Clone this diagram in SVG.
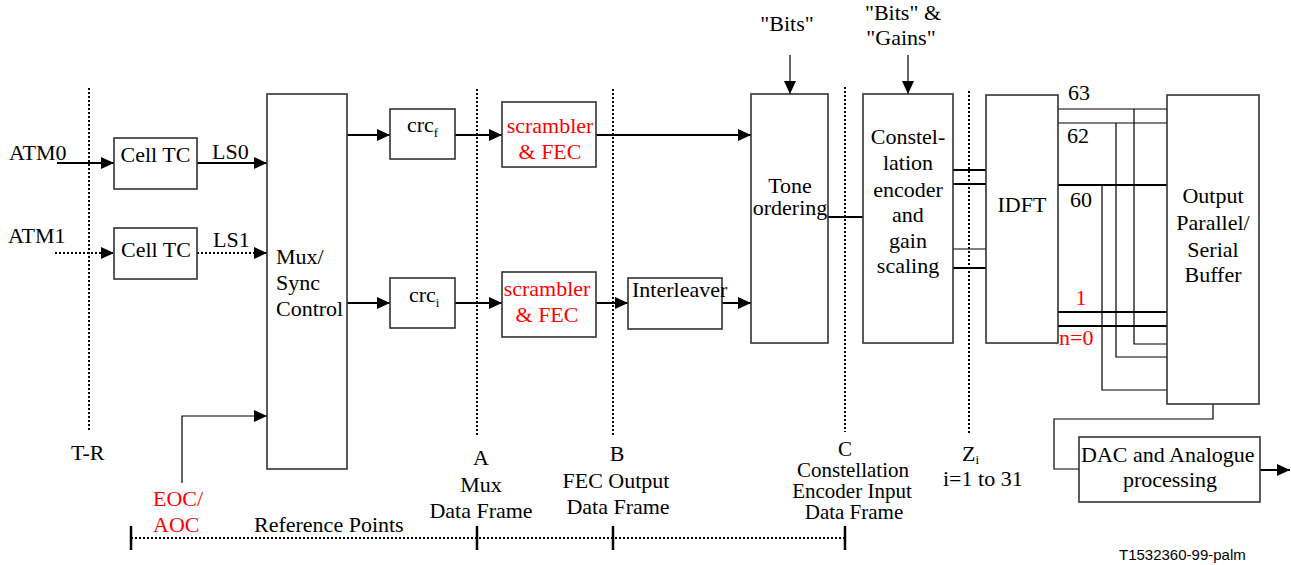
<svg xmlns="http://www.w3.org/2000/svg" width="1291" height="565" viewBox="0 0 1291 565">
  <style>
    .box { fill: #fff; stroke: #333; stroke-width: 1.6; }
    .t { font-family: "Liberation Serif", "Times New Roman", serif; font-size: 22px; fill: #000; }
    .s21 { font-size: 21px; }
    .red { fill: #ff0000; }
    .mid { text-anchor: middle; }
    .sub { font-size: 13px; }
    .wire { fill: none; stroke: #000; stroke-width: 2; }
    .thin { fill: none; stroke: #000; stroke-width: 1.2; }
    .dot { fill: none; stroke: #000; stroke-width: 2; stroke-dasharray: 2 2; }
    .tick { stroke: #000; stroke-width: 2.5; }
    .code { font-family: "Liberation Sans", Arial, sans-serif; font-size: 15px; fill: #000; }
  </style>
  <defs>
    <marker id="arrow" markerUnits="userSpaceOnUse" markerWidth="14" markerHeight="12" refX="13" refY="6" orient="auto">
      <path d="M0,0 L13,6 L0,12 z" fill="#000"/>
    </marker>
  </defs>

  <rect width="1291" height="565" fill="#fff"/>

  <!-- reference point dotted lines -->
  <g id="reference-lines">
    <line class="dot" x1="89" y1="88" x2="89" y2="432"/>
    <line class="dot" x1="477" y1="89" x2="477" y2="435"/>
    <line class="dot" x1="613" y1="89" x2="613" y2="435"/>
    <line class="dot" x1="845" y1="87" x2="845" y2="432"/>
    <line class="dot" x1="969" y1="91" x2="969" y2="435"/>
    <line class="dot" x1="131" y1="538" x2="845" y2="538"/>
    <line class="tick" x1="131" y1="526" x2="131" y2="550"/>
    <line class="tick" x1="477" y1="526" x2="477" y2="550"/>
    <line class="tick" x1="613" y1="526" x2="613" y2="550"/>
    <line class="tick" x1="845" y1="526" x2="845" y2="550"/>
  </g>

  <!-- connectors -->
  <g id="connectors">
    <line class="wire" x1="57" y1="163" x2="114" y2="163" marker-end="url(#arrow)"/>
    <line class="wire" x1="197" y1="163" x2="267" y2="163" marker-end="url(#arrow)"/>
    <line class="dot" x1="55" y1="253" x2="114" y2="253" marker-end="url(#arrow)"/>
    <line class="dot" x1="197" y1="253" x2="267" y2="253" marker-end="url(#arrow)"/>
    <path class="thin" d="M182,483 V416 H267" stroke="#555" marker-end="url(#arrow)"/>
    <line class="wire" x1="347" y1="135" x2="390" y2="135" marker-end="url(#arrow)"/>
    <line class="wire" x1="347" y1="303" x2="390" y2="303" marker-end="url(#arrow)"/>
    <line class="wire" x1="455" y1="135" x2="502" y2="135" marker-end="url(#arrow)"/>
    <line class="wire" x1="455" y1="303" x2="502" y2="303" marker-end="url(#arrow)"/>
    <line class="wire" x1="596" y1="135" x2="751" y2="135" marker-end="url(#arrow)"/>
    <line class="wire" x1="596" y1="303" x2="628" y2="303" marker-end="url(#arrow)"/>
    <line class="wire" x1="722" y1="303" x2="751" y2="303" marker-end="url(#arrow)"/>
    <line class="thin" x1="790" y1="55" x2="790" y2="94" marker-end="url(#arrow)"/>
    <line class="thin" x1="908" y1="55" x2="908" y2="94" marker-end="url(#arrow)"/>
    <line class="wire" x1="828" y1="217" x2="863" y2="217"/>
    <line class="wire" x1="953" y1="170" x2="986" y2="170"/>
    <line class="wire" x1="953" y1="184" x2="986" y2="184"/>
    <line class="thin" x1="953" y1="249" x2="986" y2="249"/>
    <line class="wire" x1="953" y1="268" x2="986" y2="268"/>
    <line class="thin" x1="1058" y1="109" x2="1167" y2="109"/>
    <line class="thin" x1="1058" y1="123" x2="1167" y2="123"/>
    <line class="wire" x1="1058" y1="185" x2="1167" y2="185"/>
    <line class="wire" x1="1058" y1="312" x2="1167" y2="312"/>
    <line class="wire" x1="1058" y1="326" x2="1167" y2="326"/>
    <path class="thin" d="M1134,109 V344 H1167"/>
    <path class="thin" d="M1116,123 V357 H1167"/>
    <path class="thin" d="M1102,185 V390 H1167"/>
    <path class="thin" d="M1213,404 V419 H1054 V469 H1079"/>
    <line class="wire" x1="1260" y1="470" x2="1290" y2="470" marker-end="url(#arrow)"/>
  </g>

  <!-- nodes -->
  <g id="cell-tc-0">
    <rect class="box" x="114" y="138" width="83" height="51"/>
    <text class="t mid" x="155.5" y="162">Cell TC</text>
  </g>
  <g id="cell-tc-1">
    <rect class="box" x="114" y="228" width="83" height="51"/>
    <text class="t mid" x="156" y="257">Cell TC</text>
  </g>
  <g id="mux-sync">
    <rect class="box" x="267" y="94" width="80" height="375"/>
    <text class="t" x="276" y="264">Mux/</text>
    <text class="t" x="276" y="290">Sync</text>
    <text class="t" x="276" y="316">Control</text>
  </g>
  <g id="crc-f">
    <rect class="box" x="390" y="109" width="65" height="50"/>
    <text class="t" x="407" y="132">crc<tspan class="sub" dy="5">f</tspan></text>
  </g>
  <g id="crc-i">
    <rect class="box" x="390" y="278" width="65" height="50"/>
    <text class="t" x="409" y="302">crc<tspan class="sub" dy="5">i</tspan></text>
  </g>
  <g id="scrambler-fec-fast">
    <rect class="box" x="502" y="102" width="94" height="65"/>
    <text class="t red mid" x="550" y="133">scrambler</text>
    <text class="t red mid" x="550" y="159">&amp; FEC</text>
  </g>
  <g id="scrambler-fec-interleaved">
    <rect class="box" x="502" y="272" width="94" height="65"/>
    <text class="t red mid" x="547" y="296">scrambler</text>
    <text class="t red mid" x="547" y="322">&amp; FEC</text>
  </g>
  <g id="interleaver">
    <rect class="box" x="628" y="278" width="94" height="51"/>
    <text class="t" x="632" y="297">Interleaver</text>
  </g>
  <g id="tone-ordering">
    <rect class="box" x="751" y="94" width="77" height="249"/>
    <text class="t mid" x="790" y="193">Tone</text>
    <text class="t mid" x="790" y="215">ordering</text>
  </g>
  <g id="constellation-encoder">
    <rect class="box" x="863" y="94" width="90" height="249"/>
    <text class="t mid" x="908" y="144">Constel-</text>
    <text class="t mid" x="908" y="170">lation</text>
    <text class="t mid" x="908" y="197">encoder</text>
    <text class="t mid" x="908" y="222">and</text>
    <text class="t mid" x="908" y="248">gain</text>
    <text class="t mid" x="908" y="273">scaling</text>
  </g>
  <g id="idft">
    <rect class="box" x="986" y="95" width="72" height="248"/>
    <text class="t mid" x="1022" y="212">IDFT</text>
  </g>
  <g id="output-buffer">
    <rect class="box" x="1167" y="95" width="92" height="309"/>
    <text class="t mid" x="1213" y="203">Output</text>
    <text class="t mid" x="1213" y="230">Parallel/</text>
    <text class="t mid" x="1213" y="257">Serial</text>
    <text class="t mid" x="1213" y="282">Buffer</text>
  </g>
  <g id="dac-analogue">
    <rect class="box" x="1079" y="437" width="181" height="65"/>
    <text class="t" x="1081" y="462">DAC and Analogue</text>
    <text class="t mid" x="1170" y="487">processing</text>
  </g>

  <!-- labels -->
  <g id="labels">
    <text class="t" x="9" y="160">ATM0</text>
    <text class="t" x="8" y="243">ATM1</text>
    <text class="t" x="212" y="159">LS0</text>
    <text class="t" x="213" y="247">LS1</text>
    <text class="t mid" x="787" y="31">"Bits"</text>
    <text class="t mid" x="903" y="20">"Bits" &amp;</text>
    <text class="t mid" x="901" y="45">"Gains"</text>
    <text class="t" x="1068" y="100">63</text>
    <text class="t" x="1067" y="143">62</text>
    <text class="t" x="1070" y="207">60</text>
    <text class="t red mid" x="1081" y="305">1</text>
    <text class="t red" x="1059" y="345">n=0</text>
    <text class="t" x="71" y="460">T-R</text>
    <text class="t red" x="153" y="506">EOC/</text>
    <text class="t red" x="153" y="532">AOC</text>
    <text class="t" x="254" y="532">Reference Points</text>
    <text class="t mid" x="481" y="465">A</text>
    <text class="t mid" x="481" y="492">Mux</text>
    <text class="t mid" x="481" y="518">Data Frame</text>
    <text class="t mid" x="617" y="461">B</text>
    <text class="t mid" x="616" y="488">FEC Output</text>
    <text class="t mid" x="618" y="514">Data Frame</text>
    <text class="t s21 mid" x="845" y="456">C</text>
    <text class="t s21 mid" x="853" y="477">Constellation</text>
    <text class="t s21 mid" x="852" y="498">Encoder Input</text>
    <text class="t s21 mid" x="854" y="519">Data Frame</text>
    <text class="t" x="962" y="461">Z<tspan class="sub" dy="3">i</tspan></text>
    <text class="t" x="943" y="486">i=1 to 31</text>
    <text class="code" x="1119" y="560">T1532360-99-palm</text>
  </g>
</svg>
